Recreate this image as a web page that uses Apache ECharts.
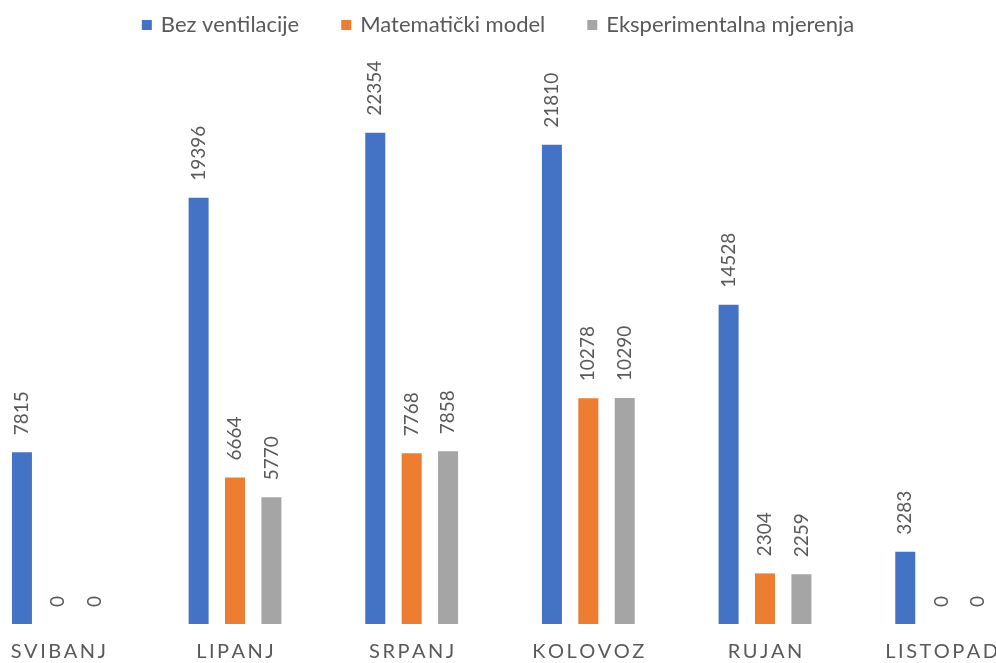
<!DOCTYPE html>
<html><head><meta charset="utf-8">
<script src="https://cdn.jsdelivr.net/npm/echarts@6/dist/echarts.min.js"></script>
<style>html,body{margin:0;padding:0;background:#fff}#c{width:996px;height:663px}</style>
</head><body><div id="c"></div>
<script>
const categories = ['SVIBANJ','LIPANJ','SRPANJ','KOLOVOZ','RUJAN','LISTOPAD'];
const bezVentilacije = [7815, 19396, 22354, 21810, 14528, 3283];
const matematickiModel = [0, 6664, 7768, 10278, 2304, 0];
const eksperimentalna = [0, 5770, 7858, 10290, 2259, 0];
const seriesNames = ['Bez ventilacije','Matematički model','Eksperimentalna mjerenja'];
const colors = ['#4472C4','#ED7D31','#A5A5A5'];
const FONT = 'Lato';
const chart = echarts.init(document.getElementById('c'));
function mk(name, data, color){
  return {
    name, type:'bar', data, barWidth:20, barGap:'82%',
    itemStyle:{color},
    label:{show:true, position:'top', rotate:90, align:'left', verticalAlign:'middle',
      distance:17, color:'#595959', fontSize:19, fontFamily:FONT}
  };
}
chart.setOption({
  animation:false,
  color:colors,
  legend:{top:9, left:'center', itemWidth:10, itemHeight:10, itemGap:42, icon:'rect',
    textStyle:{color:'#595959', fontSize:22, fontFamily:FONT, padding:[0,0,0,4]}},
  grid:{left:-30, width:1060, top:74.7, bottom:39, containLabel:false, outerBoundsMode:'none'},
  xAxis:{type:'category', data:categories,
    axisLine:{show:false}, axisTick:{show:false},
    axisLabel:{color:'#595959', fontSize:20, fontFamily:FONT, margin:18,
      formatter:v=>v.split('').join('\u2009')}},
  yAxis:{type:'value', min:0, max:25000, show:false, splitLine:{show:false}},
  series:[mk(seriesNames[0], bezVentilacije, colors[0]),
          mk(seriesNames[1], matematickiModel, colors[1]),
          mk(seriesNames[2], eksperimentalna, colors[2])]
});
</script></body></html>
